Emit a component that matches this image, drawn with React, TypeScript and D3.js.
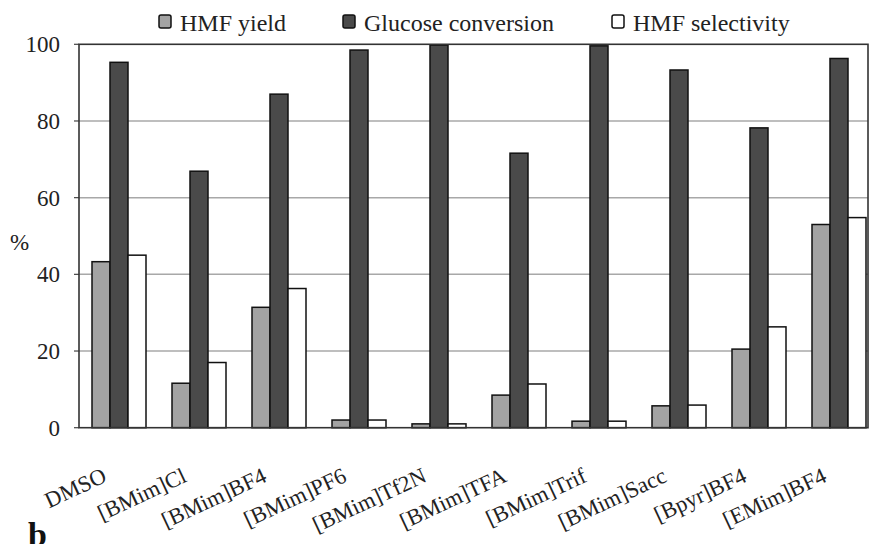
import React from "react";
import * as d3 from "d3";

const categories = ["DMSO", "[BMim]Cl", "[BMim]BF4", "[BMim]PF6", "[BMim]Tf2N", "[BMim]TFA", "[BMim]Trif", "[BMim]Sacc", "[Bpyr]BF4", "[EMim]BF4"];
const seriesNames = ["HMF yield", "Glucose conversion", "HMF selectivity"];
const hmfYield = [43.3, 11.6, 31.4, 2.0, 1.0, 8.5, 1.7, 5.7, 20.5, 53.0];
const glucoseConversion = [95.3, 66.9, 87.0, 98.5, 99.8, 71.6, 99.6, 93.3, 78.2, 96.3];
const hmfSelectivity = [45.0, 17.0, 36.3, 2.0, 1.0, 11.4, 1.7, 5.9, 26.3, 54.8];
const yTicks = [0, 20, 40, 60, 80, 100];
const colors = ["#a3a3a3", "#4a4a4a", "#ffffff"];

const W = 870, H = 544;
const M = { left: 79, right: 868, top: 44.3, bottom: 427.7 };
const FONT = "'Liberation Serif', 'Times New Roman', serif";

export default function App() {
  const series = [hmfYield, glucoseConversion, hmfSelectivity];
  const x = d3.scaleBand<string>().domain(categories).range([M.left, M.left + 800]).paddingInner(0.325).paddingOuter(0.1625);
  const xs = d3.scaleBand<number>().domain([0, 1, 2]).range([0, x.bandwidth()]);
  const y = d3.scaleLinear().domain([0, 100]).range([M.bottom, M.top]);
  const legendX = [159, 343, 612];

  return (
    <svg width={W} height={H} style={{ position: "absolute", left: 0, top: 0, background: "#fff" }} fontFamily={FONT}>
      <rect x={0} y={0} width={W} height={H} fill="#fff" />
      {yTicks.filter(t => t > 0 && t < 100).map(t => (
        <line key={t} x1={M.left} x2={M.right} y1={y(t)} y2={y(t)} stroke="#a8a8a8" strokeWidth={1.5} />
      ))}
      {yTicks.map(t => (
        <g key={"t" + t}>
          <line x1={M.left - 5} x2={M.left} y1={y(t)} y2={y(t)} stroke="#444" strokeWidth={1.2} />
          <text x={60} y={y(t)} dy="0.35em" textAnchor="end" fontSize={23} fill="#222">{t}</text>
        </g>
      ))}
      <text x={10} y={242} dy="0.35em" fontSize={23} fill="#222">%</text>
      {categories.map((c, i) => (
        <g key={c}>
          {series.map((s, j) => (
            <rect key={j} x={(x(c) as number) + (xs(j) as number)} y={y(s[i])} width={xs.bandwidth()} height={M.bottom - y(s[i])}
              fill={colors[j]} stroke="#111" strokeWidth={1.5} />
          ))}
        </g>
      ))}
      <rect x={M.left} y={M.top} width={M.right - M.left} height={M.bottom - M.top} fill="none" stroke="#333" strokeWidth={1.6} />
      {categories.map(c => {
        const cx = (x(c) as number) + x.bandwidth() / 2;
        return (
          <text key={"l" + c} transform={`translate(${cx - 11},${481}) rotate(-25)`} textAnchor="end" fontSize={22.5} fill="#222">{c}</text>
        );
      })}
      {seriesNames.map((n, j) => (
        <g key={n}>
          <rect x={legendX[j]} y={15} width={12} height={13} rx={2} fill={colors[j]} stroke="#111" strokeWidth={1.5} />
          <text x={legendX[j] + 21} y={31} fontSize={24} fill="#222">{n}</text>
        </g>
      ))}
      <text x={28} y={546} fontSize={34} fontWeight="bold" fill="#111">b</text>
    </svg>
  );
}
